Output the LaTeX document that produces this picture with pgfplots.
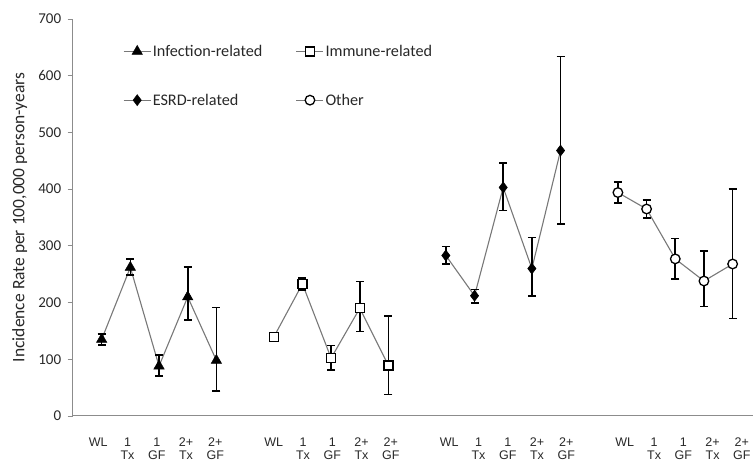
\documentclass[border=0pt]{standalone}
\usepackage{fontspec}
\setmainfont{Carlito}
\newfontfamily\arialf{Liberation Sans}
\usepackage{pgfplots}
\pgfplotsset{compat=1.18}
\definecolor{axgray}{RGB}{140,140,140}
\definecolor{lngray}{RGB}{120,120,120}
\definecolor{txt}{RGB}{40,40,40}
\begin{document}
\begin{tikzpicture}
\path[use as bounding box] (-72.7pt,-49pt) rectangle (680.3pt,416pt);
\begin{axis}[
  at={(0pt,0pt)}, anchor=south west,
  scale only axis,
  width=680.3pt, height=397pt,
  xmin=-1.01, xmax=22.71,
  ymin=0, ymax=700,
  axis x line=bottom, axis y line=left,
  axis line style={-, axgray, line width=1pt},
  ytick={0,100,...,700},
  tick align=outside,
  major tick length=5pt,
  ytick style={axgray, line width=0.8pt},
  xtick style={draw=none},
  /pgf/number format/assume math mode=true,
  yticklabel style={font=\fontsize{15}{15}\selectfont, text=txt, xshift=-3pt},
  xtick={-0.12,0.90,1.92,2.94,3.96, 6.00,7.02,8.04,9.06,10.08, 12.12,13.14,14.16,15.18,16.20, 18.24,19.26,20.28,21.30,22.32},
  xticklabels={WL,1\\Tx,1\\GF,2+\\Tx,2+\\GF, WL,1\\Tx,1\\GF,2+\\Tx,2+\\GF, WL,1\\Tx,1\\GF,2+\\Tx,2+\\GF, WL,1\\Tx,1\\GF,2+\\Tx,2+\\GF},
  xticklabel style={font=\arialf\fontsize{12.5}{13}\selectfont, align=center, anchor=north, yshift=-13pt, text=txt},
  ylabel={Incidence Rate per 100,000 person-years},
  ylabel style={at={(axis description cs:-0.078,0.5)}, anchor=center, font=\fontsize{17.5}{18}\selectfont, text=txt},
  clip=false,
  legend columns=2,
  legend style={draw=none, fill=none, at={(axis description cs:0.0695,0.945)}, anchor=north west,
    font=\fontsize{16.2}{17}\selectfont, text=txt,
    nodes={inner xsep=1.5pt, inner ysep=2pt},
    /tikz/every even column/.append style={column sep=32pt},
    row sep=32pt},
  legend cell align=left,
  legend image code/.code={\draw[lngray, line width=1.1pt] (0pt,0pt) -- (27pt,0pt);
     \path[#1] plot[only marks] coordinates {(13.5pt,0pt)};},
]
\addplot[lngray, line width=1.1pt, mark=triangle*, mark size=6pt, mark options={black, fill=black, line width=0.5pt},
  error bars/.cd, y dir=both, y explicit, error bar style={black, line width=1.6pt},
  error mark options={rotate=90, black, mark size=4pt, line width=1.6pt}]
  table[x=x, y=y, y error plus=ep, y error minus=em] {
x y ep em
0 135 10 10
1 262 15 13
2 88 20 17
3 210 53 41
4 98 93 54
};
\addlegendentry{Infection-related}
\addplot[lngray, line width=1.1pt, mark=square*, mark size=4.5pt, mark options={black, fill=white, line width=1.3pt},
  error bars/.cd, y dir=both, y explicit, error bar style={black, line width=1.6pt},
  error mark options={rotate=90, black, mark size=4pt, line width=1.6pt}]
  table[x=x, y=y, y error plus=ep, y error minus=em] {
x y ep em
6 139 8 8
7 233 10 11
8 102 22 21
9 190 47 41
10 89 87 51
};
\addlegendentry{Immune-related}
\addplot[lngray, line width=1.1pt, mark=diamond*, mark size=5.5pt, mark options={black, fill=black, line width=0.5pt},
  error bars/.cd, y dir=both, y explicit, error bar style={black, line width=1.6pt},
  error mark options={rotate=90, black, mark size=4pt, line width=1.6pt}]
  table[x=x, y=y, y error plus=ep, y error minus=em] {
x y ep em
12 283 16 15
13 212 11 13
14 403 43 41
15 260 55 48
16 468 166 129
};
\addlegendentry{ESRD-related}
\addplot[lngray, line width=1.1pt, mark=*, mark size=4.8pt, mark options={black, fill=white, line width=1.3pt},
  error bars/.cd, y dir=both, y explicit, error bar style={black, line width=1.6pt},
  error mark options={rotate=90, black, mark size=4pt, line width=1.6pt}]
  table[x=x, y=y, y error plus=ep, y error minus=em] {
x y ep em
18 394 19 18
19 365 16 16
20 277 36 35
21 238 53 45
22 268 132 96
};
\addlegendentry{Other}
\end{axis}
\end{tikzpicture}
\end{document}
